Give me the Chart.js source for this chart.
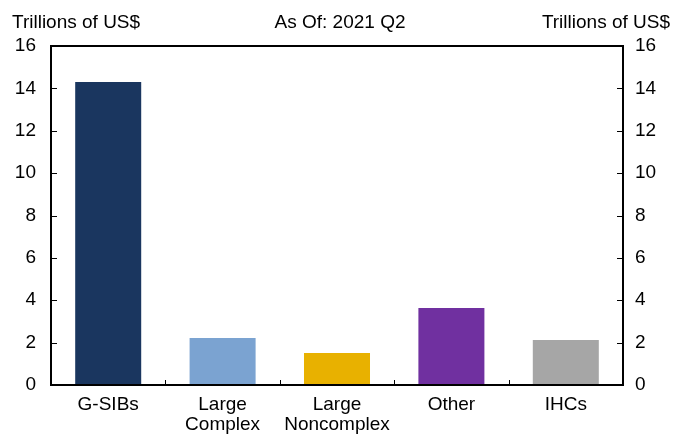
<!DOCTYPE html>
<html>
<head>
<meta charset="utf-8">
<script src="https://cdn.jsdelivr.net/npm/chart.js@4/dist/chart.umd.min.js"></script>
<style>
html,body{margin:0;padding:0;background:#fff;}
#wrap{width:679px;height:435px;}
</style>
</head>
<body>
<div id="wrap"><canvas id="c" width="679" height="435"></canvas></div>
<script>
const categories = [["G-SIBs"], ["Large", "Complex"], ["Large", "Noncomplex"], ["Other"], ["IHCs"]];
const values = [14.3, 2.22, 1.51, 3.63, 2.12];
const barColors = ["#1a365f", "#7ba3d1", "#e8b100", "#7030a0", "#a6a6a6"];
const yTicks = [0, 2, 4, 6, 8, 10, 12, 14, 16];
const titleText = "As Of: 2021 Q2";
const axisTitle = "Trillions of US$";

const FONT = "'Liberation Sans', Arial, sans-serif";
const FS = 19;

const framePlugin = {
  id: 'frame',
  afterDraw(chart) {
    const ctx = chart.ctx;
    const a = chart.chartArea;
    const y = chart.scales.y;
    const x = chart.scales.x;
    ctx.save();
    ctx.strokeStyle = '#000';
    ctx.lineWidth = 2;
    ctx.strokeRect(Math.round(a.left), Math.round(a.top), Math.round(a.right - a.left), Math.round(a.bottom - a.top));
    ctx.lineWidth = 1;
    ctx.beginPath();
    yTicks.forEach(v => {
      const py = Math.round(y.getPixelForValue(v)) + 0.5;
      ctx.moveTo(a.left, py); ctx.lineTo(a.left + 6, py);
      ctx.moveTo(a.right, py); ctx.lineTo(a.right - 6, py);
    });
    for (let i = 1; i < categories.length; i++) {
      const px = Math.round((x.getPixelForValue(i - 1) + x.getPixelForValue(i)) / 2) + 0.5;
      ctx.moveTo(px, a.bottom); ctx.lineTo(px, a.bottom - 5);
    }
    ctx.stroke();
    ctx.fillStyle = '#000';
    ctx.font = FS + "px " + FONT;
    ctx.textBaseline = 'alphabetic';
    ctx.textAlign = 'left';
    ctx.fillText(axisTitle, 12, 28);
    ctx.textAlign = 'right';
    ctx.fillText(axisTitle, 670, 28);
    ctx.textAlign = 'center';
    ctx.fillText(titleText, 340, 28);
    ctx.restore();
  }
};

new Chart(document.getElementById('c'), {
  type: 'bar',
  data: {
    labels: categories,
    datasets: [{
      data: values,
      backgroundColor: barColors,
      borderWidth: 0,
      categoryPercentage: 1,
      barPercentage: 0.577
    }]
  },
  options: {
    responsive: false,
    animation: false,
    devicePixelRatio: 1,
    layout: { padding: { top: 46, left: 0, right: 0, bottom: 0 } },
    plugins: { legend: { display: false }, tooltip: { enabled: false }, title: { display: false } },
    scales: {
      x: {
        grid: { display: false, drawTicks: false },
        border: { display: false },
        ticks: { color: '#000', font: { size: FS, family: FONT, lineHeight: 1.05 }, padding: 10, maxRotation: 0, autoSkip: false },
        afterFit(s) { s.height = 50; }
      },
      y: {
        position: 'left',
        min: 0, max: 16,
        afterBuildTicks(s) { s.ticks = yTicks.map(v => ({ value: v })); },
        grid: { display: false, drawTicks: false },
        border: { display: false },
        ticks: { color: '#000', font: { size: FS, family: FONT }, padding: 15 },
        afterFit(s) { s.width = 51; }
      },
      y2: {
        position: 'right',
        min: 0, max: 16,
        afterBuildTicks(s) { s.ticks = yTicks.map(v => ({ value: v })); },
        grid: { display: false, drawTicks: false },
        border: { display: false },
        ticks: { color: '#000', font: { size: FS, family: FONT }, padding: 12 },
        afterFit(s) { s.width = 56; }
      }
    }
  },
  plugins: [framePlugin]
});
</script>
</body>
</html>
